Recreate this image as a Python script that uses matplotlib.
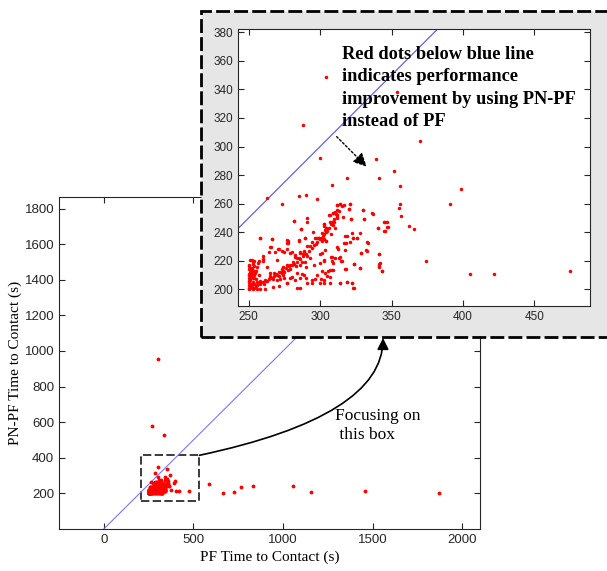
import numpy as np
import matplotlib.pyplot as plt
from matplotlib.patches import Rectangle

# PF vs PN-PF time to contact (s)
# dense column near x = 250
col_pf = [250, 250.5, 251, 250, 251.5, 250, 250.5, 251, 250, 251.5, 250.5, 250, 251, 252,
          250.5, 251, 250, 250.5, 252, 252.5, 253, 253, 252.5, 253.5, 252, 253, 254, 254,
          255, 254, 255, 254, 253, 254, 255, 256]
col_pnpf = [200, 201, 202, 203, 204, 205, 206, 207, 208, 209, 210, 211, 212, 213,
            214, 215, 216, 217, 201, 203, 205, 208, 211, 213, 215, 218, 220, 216,
            213, 210, 207, 204, 200, 201, 202, 200.5]

# rising band
band_pf = [256, 258, 260, 262, 264, 266, 268, 270, 272, 274, 276, 278, 280, 282, 284, 286,
           288, 290, 292, 294, 296, 298, 300, 302, 304, 306, 308, 310, 312, 258, 261, 263,
           265, 267, 269, 271, 273, 275, 277, 279, 281, 283, 285, 287, 289, 291, 293, 297,
           299, 301, 303, 305, 307, 309, 311, 313, 315, 317]
band_pnpf = [203, 204, 205, 205.5, 207, 208, 209, 210, 212, 213, 215, 216, 217, 218, 219, 221,
             223, 225, 227, 229, 231, 233, 235, 237, 240, 243, 246, 249, 252, 206, 204, 206,
             209, 207, 211, 209, 214, 212, 217, 214, 219, 216, 222, 219, 226, 223, 230, 232,
             236, 234, 239, 241, 247, 245, 253, 255, 258, 259]

# scattered points
scat_pf = [304, 354, 288, 370, 300, 339, 352, 319, 341, 356, 308, 399, 263, 273, 285, 290,
           298, 391, 356, 355, 357, 362, 366, 374, 405, 422, 475, 345, 346.6, 340.8, 345,
           336.4, 330, 331, 333.1, 332.2, 328.6, 327.9, 323.7, 341.2, 342.1, 341.2, 343.1,
           322.3, 325.7, 323.3, 320.9, 320.5, 321.6, 314, 312.1, 311.6, 318.6, 317.9, 317.2,
           314, 315.6, 317.5, 318.6, 314, 322.6, 323.4, 303, 294, 296.6, 301.5, 308, 308.8,
           307.4, 302.7, 310.2, 302.5, 303.9, 307.4, 308.3, 309.3, 310.4, 306.5, 303, 304.1,
           298.8, 297.1, 300.4, 295.3, 294.3, 291.1, 286.4, 285, 289.3, 288.6, 291.1, 281.7,
           277.1, 277.1, 277.1, 273.1, 270.8, 266.3, 265.6, 257.9, 260.3, 260.3, 269.6, 280.3,
           282.4, 283.6, 285.9, 288.3, 285.9, 290.1, 283.6, 287.1, 290.1, 278.9, 276.6, 283.6,
           285.9, 271.2, 267.3, 261.4, 257.9, 272, 274.3, 277.8, 274.3, 279, 273.1, 264.9,
           262.6, 255.6, 256.8, 253.3, 250.9, 281.9, 291, 286.4, 257.7, 266.3, 277.3, 277.3,
           285.2, 289.2, 296.6, 299.4, 302.5, 303.7, 265.1, 271, 264, 268.6, 252.3, 257, 260,
           274.9, 279.1, 282.6, 286.1, 289.6, 293.1, 295.5, 300.1, 301.3, 303.6, 252.3, 254.6,
           257, 253.5, 251.2, 255.8, 258.1, 261.6, 265.1, 267.4, 270.9, 269.7, 274.4, 276.7,
           280.2, 282.6, 286.1, 288.4, 290.7, 294.2, 297.7, 300.1, 302.5, 303.6, 307.1, 307.1,
           311.8, 313.7, 320.9, 306.7, 309.2, 312, 316, 311.6, 308.1, 309.9, 302.7, 304.6,
           310.4, 301.1, 307.6, 320.4, 321.4, 330, 331, 336.8, 345.7, 346.6, 340.8, 347.3,
           345.4, 328, 317.4, 323.2, 325.6, 320.9, 316.9, 333.3, 304.1, 311.6, 312.7, 328.6,
           332.6, 341, 299.9, 302.7, 308.1, 308.5, 313.2, 314.6, 323.7, 328.2, 341.5, 341,
           343.1, 317.9, 309.2, 305.5, 304.6, 300.6, 306.9, 313.9, 318.6, 322.5, 323.2,
           300, 269, 335, 590, 665, 729, 767, 834, 1056, 1159, 1460, 1873]
scat_pnpf = [349, 338, 315, 304, 292, 291, 283, 278, 278, 272, 273, 270, 264, 260, 265, 266,
             263, 260, 260, 257, 251, 244, 242, 220, 211, 211, 213, 247, 243.4, 243, 240.9,
             253.2, 255.6, 249.3, 232.9, 227.6, 225.2, 215, 218, 225, 218.2, 216.3, 213.1,
             239.7, 236, 235.7, 259.8, 256, 249, 260, 259, 250.4, 237.4, 232.2, 227.6,
             222.9, 219.8, 214, 204.9, 204.2, 204.2, 200.7, 204.4, 204.2, 207.5, 212.8, 213.5, 218.2,
             222.9, 220.5, 221.7, 235.5, 233.6, 245.8, 247.2, 253.2, 254.4, 252.1, 244.4, 243.2,
             236.2, 236, 236, 240.2, 233.4, 250.2, 242.3, 234.6, 236, 227.1, 230.4, 248.1,
             234.6, 232.2, 228, 226.8, 228.5, 235, 229.7, 235.7, 223.3, 221.2, 220.8, 226.4,
             224, 221.9, 226.1, 224.5, 217, 215.9, 211.2, 210.5, 207.7, 207.7, 204.2, 200.7,
             200.7, 202.3, 201.9, 200, 200, 207, 210, 213.5, 215.9, 217, 211.2, 211.2,
             215.9, 215.9, 218.2, 219.4, 220.5, 247.8, 247.3, 242.2, 235.7, 235.2, 234, 232.6,
             234, 235.7, 236.1, 235.9, 245.5, 241.5, 229.8, 228.2, 226.3, 226.3, 220.5, 220, 219.8,
             226.3, 225.2, 222.8, 225.6, 219.3, 221.7, 217, 218.2, 225.2, 227.5, 213.5, 211.2,
             210, 207.7, 206.5, 205.3, 204.2, 206.5, 208.8, 211.2, 212.3, 206.5, 207.7, 204.2,
             208.8, 206.5, 207.7, 210, 204.2, 206.5, 210, 204.2, 206.5, 211.2, 208.8, 213.5,
             259, 259.7, 259.7, 252, 253.6, 255.5, 250.6, 250, 247.3, 246.9, 245.7, 243.1,
             242.7, 239.2, 238.7, 256.2, 249, 255.5, 249.4, 252.7, 246.9, 246.9, 242.7, 243.4,
             240.6, 239.2, 237.5, 236.1, 235.7, 233.3, 232.6, 232.6, 233.8, 229.8, 228.2, 225.2,
             227, 224.5, 224.7, 220, 222.8, 220, 221.7, 219.8, 217.9, 214.7, 217.5, 215.8,
             212.8, 214, 213.5, 212.8, 209.3, 207.2, 204.2, 204.2, 204.9, 204.2, 200.7,
             957, 578, 526, 255, 200, 206, 238, 241, 241, 210, 213, 202]

pf = np.array(col_pf + band_pf + scat_pf)
pnpf = np.array(col_pnpf + band_pnpf + scat_pnpf)

main_xticks = [0, 500, 1000, 1500, 2000]
main_yticks = [200, 400, 600, 800, 1000, 1200, 1400, 1600, 1800]
zoom_xticks = [250, 300, 350, 400, 450]
zoom_yticks = list(range(200, 381, 20))

tick_col = '#262626'
serif = 'Liberation Serif'
sans = 'Liberation Sans'

fig = plt.figure(figsize=(6.07, 5.71), dpi=100)

# main axes
ax = fig.add_axes([59/607, 1-529/571, 421/607, 332/571])
ax.axline((0, 0), slope=1, color='#7878ff', lw=0.8)
ax.plot(pf, pnpf, '.', color='red', ms=3.5)
ax.set_xlim(-250, 2100)
ax.set_ylim(0, 1865)
ax.set_xticks(main_xticks)
ax.set_yticks(main_yticks)
ax.tick_params(direction='in', top=True, right=True, length=4, colors=tick_col,
               labelsize=9.5)
for lab in ax.get_xticklabels() + ax.get_yticklabels():
    lab.set_family(sans)
for s in ax.spines.values():
    s.set_color(tick_col)
ax.set_xlabel('PF Time to Contact (s)', family=serif, fontsize=11, labelpad=3)
ax.set_ylabel('PN-PF Time to Contact (s)', family=serif, fontsize=11, labelpad=2)

# dashed focus box
ax.add_patch(Rectangle((207, 160), 327, 254, fill=False, ec='#1a1a1a', lw=1.2,
                       ls=(0, (5, 2))))

# curved arrow from box to the zoomed view
ax.annotate('', xy=(383/607, 1-338/571), xycoords='figure fraction',
            xytext=(534, 414), textcoords='data',
            arrowprops=dict(arrowstyle='-|>', color='black', lw=1.2,
                            mutation_scale=17, shrinkA=0, shrinkB=0,
                            connectionstyle='angle3,angleA=12,angleB=90'))
fig.text(335/607, 1-408/571, 'Focusing on\n this box', family=serif, fontsize=12.5,
         va='top', ha='left', linespacing=1.25)

# gray panel behind the zoomed view
panel = Rectangle((201/607, 1-337/571), 420/607, 326/571, transform=fig.transFigure,
                  fc='#e6e6e6', ec='black', lw=2, ls=(0, (5, 1.5)), zorder=1)
fig.patches.append(panel)

# zoomed view
axz = fig.add_axes([237.7/607, 1-306/571, 352.3/607, 277/571])
axz.set_zorder(2)
axz.axline((0, 0), slope=1, color='#5050ff', lw=0.8)
axz.plot(pf, pnpf, '.', color='red', ms=3)
axz.set_xlim(242.3, 489)
axz.set_ylim(188.3, 382.3)
axz.set_xticks(zoom_xticks)
axz.set_yticks(zoom_yticks)
axz.tick_params(direction='in', top=True, right=True, length=4, colors=tick_col,
                labelsize=8.5)
for lab in axz.get_xticklabels() + axz.get_yticklabels():
    lab.set_family(sans)
for s in axz.spines.values():
    s.set_color(tick_col)

axz.annotate('', xy=(332.6, 285.9), xytext=(311.6, 306.9),
             arrowprops=dict(arrowstyle='-|>', color='black', lw=1, ls=(0, (1.5, 1.5)),
                             mutation_scale=20, shrinkA=0, shrinkB=0))
fig.text(342/607, 1-46/571,
         'Red dots below blue line\nindicates performance\nimprovement by using PN-PF\ninstead of PF',
         family=serif, weight='bold', fontsize=13.2, va='top', ha='left', linespacing=1.42)

fig.savefig('out.png', dpi=100)
